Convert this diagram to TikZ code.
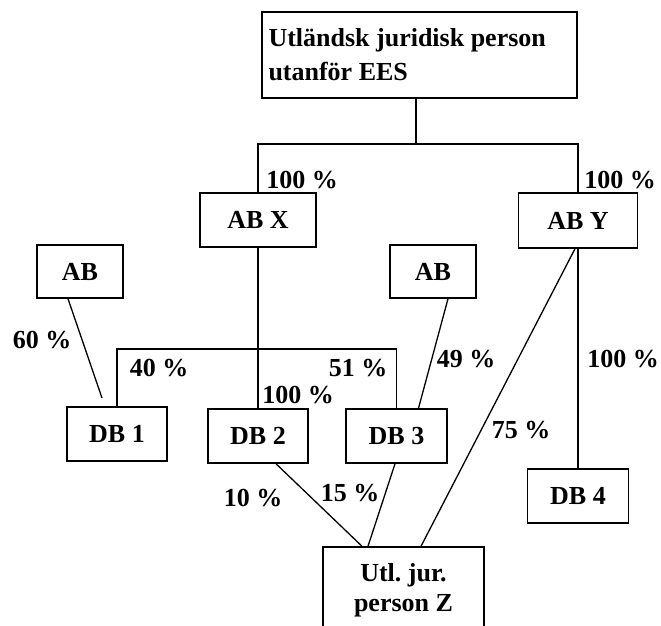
\documentclass[tikz,border=0pt]{standalone}
\usepackage{fontspec}
\setmainfont{Liberation Serif}
\usetikzlibrary{calc}
\frenchspacing
\begin{document}
\begin{tikzpicture}[x=1pt,y=-1pt,
  box/.style={draw,line width=1.5pt,inner sep=0pt,font=\fontsize{26}{30}\selectfont\bfseries},
  lbl/.style={inner sep=0pt,font=\fontsize{26}{30}\selectfont\bfseries},
  ln/.style={line width=1.3pt}]
\clip (0,0) rectangle (661,626);
\fill[white] (0,0) rectangle (661,626);
\node[box,minimum width=315pt,minimum height=86pt,align=left] (top) at (419.5,55)
  {\parbox{302pt}{\raggedright\fontsize{26}{34}\selectfont Utländsk juridisk person\\utanför EES}};
\node[box,minimum width=116pt,minimum height=54pt] (abx) at (258,220) {AB X};
\node[box,minimum width=119pt,minimum height=55pt] (aby) at (578,220.5) {AB Y};
\node[box,minimum width=86pt,minimum height=53pt] (abl) at (80,271.5) {AB};
\node[box,minimum width=86pt,minimum height=53pt] (abr) at (433,271.5) {AB};
\node[box,minimum width=100pt,minimum height=54pt] (db1) at (117,434) {DB 1};
\node[box,minimum width=100pt,minimum height=54pt] (db2) at (258,436) {DB 2};
\node[box,minimum width=101pt,minimum height=54pt] (db3) at (396.5,436) {DB 3};
\node[box,minimum width=101pt,minimum height=54pt] (db4) at (578,496) {DB 4};
\node[box,minimum width=161pt,minimum height=86pt,align=center] (z) at (403.5,590)
  {\fontsize{26}{28}\selectfont Utl. jur.\\person Z};
\coordinate (j1) at (416,144);
\coordinate (h) at (0,349);
\coordinate (e1) at (102,398);
\draw[ln] (top.south -| j1) -- (j1);
\draw[ln] (abx.north) |- (j1) -| (aby.north);
\draw[ln] (abx.south) -- (db2.north);
\draw[ln] (db1.north) |- (h -| db3.north) -- (db3.north);
\draw[ln] ($(abl.south)+(-12,0)$) -- (e1);
\draw[ln] ($(abr.south)+(15,0)$) -- ($(db3.north)+(22,0)$);
\draw[ln] (aby.south) -- (db4.north);
\draw[ln] ($(aby.south)+(-3,0)$) -- ($(z.north)+(17.5,0)$);
\draw[ln] ($(db2.south)+(18,0)$) -- ($(z.north)+(-41.5,0)$);
\draw[ln] ($(db3.south)+(-1.5,0)$) -- ($(z.north)+(-35.5,0)$);
\node[lbl] (l1) at (302,180) {100 \%};
\node[lbl] (l2) at (620,180) {100 \%};
\node[lbl] (l3) at (42,340) {60 \%};
\node[lbl] (l4) at (159,368) {40 \%};
\node[lbl] (l5) at (358,368) {51 \%};
\node[lbl] (l6) at (298,395) {100 \%};
\node[lbl] (l7) at (466,359) {49 \%};
\node[lbl] (l8) at (623,359) {100 \%};
\node[lbl] (l9) at (521,430) {75 \%};
\node[lbl] (l10) at (253,498) {10 \%};
\node[lbl] (l11) at (350,493) {15 \%};
\end{tikzpicture}
\end{document}
